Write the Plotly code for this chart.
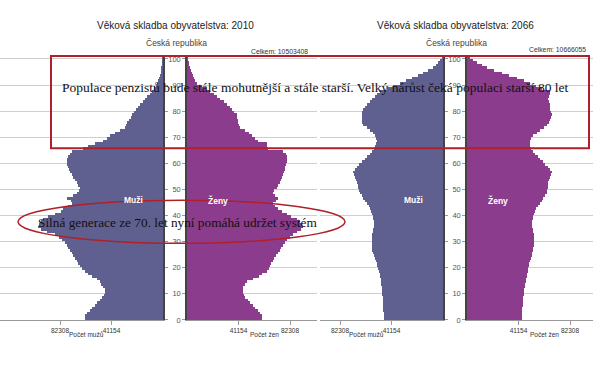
import plotly.graph_objects as go

W, H = 614, 372

ages = list(range(0, 101))

male_2010 = [62400, 62400, 60800, 58400, 56800, 54400, 52800, 50400, 48800, 47200,
             46400, 46400, 48000, 49600, 50400, 52800, 56800, 60000, 62400, 64800,
             66400, 68000, 68800, 70400, 72000, 72800, 74400, 76000, 76800, 78400,
             80800, 83200, 86400, 92800, 97600, 100000, 99200, 97600, 96000, 92000,
             86400, 81600, 80000, 76000, 72800, 73600, 76800, 72000, 68800, 67200,
             66400, 68000, 68800, 70400, 72000, 72800, 74400, 75200, 76000, 76800,
             76800, 76800, 76000, 74400, 72800, 64000, 60000, 54400, 48000, 44800,
             42400, 38400, 34400, 30400, 29600, 28800, 27200, 25600, 24800, 23200,
             21600, 20000, 18400, 16000, 14400, 12800, 10400, 8800, 7200, 5600,
             4800, 4000, 3200, 2400, 2000, 1600, 1200, 800, 600, 400, 200]

female_2010 = [60000, 60000, 58400, 56800, 54400, 52800, 50400, 48800, 46400, 45600,
               44800, 44800, 44800, 46400, 48000, 52800, 57600, 60000, 64000, 65600,
               66400, 67200, 68800, 69600, 71200, 72800, 74400, 75200, 76800, 78400,
               80000, 82400, 84800, 88000, 91200, 92800, 92000, 90400, 88000, 83200,
               80000, 76000, 72800, 70400, 68800, 71200, 72800, 70400, 68800, 69600,
               72000, 72800, 74400, 75200, 76000, 76800, 77600, 78400, 78400, 79200,
               80000, 80000, 80000, 79200, 76800, 64800, 64000, 64000, 56800, 54400,
               52000, 49600, 46400, 42400, 41600, 40800, 40800, 40000, 40000, 37600,
               36000, 34400, 32000, 29600, 26400, 24000, 21600, 18400, 15200, 12000,
               8000, 6400, 5600, 4800, 4000, 3200, 2400, 1600, 1200, 800, 400]

male_2066 = [47200, 47200, 47200, 48000, 48000, 48000, 48000, 48000, 48000, 48800,
             48800, 48800, 48800, 49600, 49600, 49600, 50400, 50400, 51200, 52000,
             52800, 52800, 53600, 54400, 55200, 56000, 56800, 56800, 56800, 56800,
             56800, 56800, 56800, 56000, 56000, 55200, 55200, 55200, 56000, 56000,
             56800, 57600, 58400, 59200, 60800, 62400, 64000, 64800, 66400, 67200,
             68000, 68000, 68800, 69600, 70400, 71200, 72000, 70400, 68800, 67200,
             64800, 62400, 60800, 58400, 56800, 55200, 54400, 53600, 52800, 53600,
             54400, 56000, 58400, 60800, 64000, 64800, 64800, 64800, 64800, 64800,
             64000, 62400, 60800, 58400, 56800, 54400, 52800, 50400, 44800, 40000,
             34400, 29600, 24800, 20000, 16000, 12000, 8000, 5600, 4000, 2400, 800]

female_2066 = [44000, 44000, 44000, 44000, 44000, 44800, 44800, 44800, 44800, 45600,
               45600, 45600, 46400, 46400, 47200, 47200, 48000, 48000, 48800, 48800,
               49600, 49600, 50400, 51200, 52000, 52000, 52800, 52800, 53600, 53600,
               53600, 53600, 53600, 52800, 52800, 52000, 52000, 52000, 52800, 52800,
               53600, 54400, 55200, 56800, 58400, 60000, 60800, 62400, 64000, 64000,
               64800, 64800, 64800, 65600, 66400, 67200, 68000, 66400, 64800, 62400,
               60800, 58400, 56800, 54400, 52800, 51200, 50400, 50400, 50400, 51200,
               52800, 56000, 58400, 61600, 64000, 65600, 66400, 67200, 68000, 67200,
               66400, 66400, 66400, 65600, 64800, 65600, 66400, 66400, 60000, 55200,
               50400, 45600, 40000, 33600, 28000, 21600, 16000, 12000, 8000, 4800, 2400]

for arr in (male_2010, female_2010, male_2066, female_2066):
    assert len(arr) == len(ages), len(arr)

count_ticks = [41154, 82308]
count_tick_text = ["41154", "82308"]
age_ticks = list(range(0, 101, 10))

titles = ["Věková skladba obyvatelstva: 2010", "Věková skladba obyvatelstva: 2066"]
subtitle = "Česká republika"
totals = ["Celkem: 10503408", "Celkem: 10666055"]
male_label, female_label = "Muži", "Ženy"
male_axis_title, female_axis_title = "Počet mužů", "Počet žen"
note_top = "Populace penzistů bude stále mohutnější a stále starší. Velký nárůst čeká populaci starší 80 let"
note_mid = "Silná generace ze 70. let nyní pomáhá udržet systém"

MALE_C = "#606090"
FEMALE_C = "#8C3C8C"
SANS = "Liberation Sans, Arial, sans-serif"
SERIF = "Liberation Serif, Times New Roman, serif"

def px(x):
    return x / W

def py(y):
    return 1 - y / H

PX_PER = 799.1  # people per pixel

fig = go.Figure()
ymid = [a + 0.5 for a in ages]
series = [(male_2010, "x", "y", MALE_C), (female_2010, "x2", "y2", FEMALE_C),
          (male_2066, "x3", "y3", MALE_C), (female_2066, "x4", "y4", FEMALE_C)]
for vals, xa, ya, col in series:
    fig.add_trace(go.Bar(x=vals, y=ymid, orientation="h", width=1,
                         marker=dict(color=col, line=dict(width=0)),
                         xaxis=xa, yaxis=ya, showlegend=False, hoverinfo="x+y"))

ydom = [py(324), py(55.34)]
axis_common = dict(showline=True, linecolor="#999", linewidth=1, ticks="outside",
                   ticklen=4, tickcolor="#999", tickvals=count_ticks, ticktext=count_tick_text,
                   tickfont=dict(family=SANS, size=6.5, color="#333"), showgrid=False,
                   zeroline=False, fixedrange=True)
yax_common = dict(domain=ydom, range=[0, 101], tickvals=age_ticks, showgrid=True,
                  gridcolor="#cfcfcf", gridwidth=1, zeroline=False, showline=True,
                  linecolor="#444", linewidth=1.5, ticks="outside", ticklen=3,
                  tickcolor="#999", tickfont=dict(family=SANS, size=7.5, color="#555"))

fig.update_layout(
    width=W, height=H, margin=dict(l=0, r=0, t=0, b=0),
    paper_bgcolor="white", plot_bgcolor="rgba(0,0,0,0)",
    barmode="overlay", bargap=0,
    xaxis=dict(domain=[px(0), px(163)], range=[163 * PX_PER, 0], anchor="y", **axis_common),
    xaxis2=dict(domain=[px(187), px(317)], range=[0, 130 * PX_PER], anchor="y2", **axis_common),
    xaxis3=dict(domain=[px(320), px(443)], range=[123 * PX_PER, 0], anchor="y3", **axis_common),
    xaxis4=dict(domain=[px(467), px(593)], range=[0, 126 * PX_PER], anchor="y4", **axis_common),
    yaxis=dict(anchor="x", side="right", showticklabels=False, **yax_common),
    yaxis2=dict(anchor="x2", side="left", showticklabels=True, **yax_common),
    yaxis3=dict(anchor="x3", side="right", showticklabels=False, **yax_common),
    yaxis4=dict(anchor="x4", side="left", showticklabels=True, **yax_common),
)

def note(text, x, y, size, family=SANS, color="#333", xanchor="center", xref="paper", yref="paper"):
    return dict(text=text, x=x, y=y, xref=xref, yref=yref, xanchor=xanchor, yanchor="middle",
                showarrow=False, font=dict(family=family, size=size, color=color))

ann = []
for i, (cx, tot_x, tot_y) in enumerate([(175, 310, 50), (455, 588, 48)]):
    ann.append(note(titles[i], px(cx), py(24), 10, color="#222"))
    ann.append(note(subtitle, px(cx + 1), py(42), 8.5, color="#444"))
    ann.append(note(totals[i], px(tot_x), py(tot_y), 6.8, xanchor="right"))

for mx, fx, ya, yb in [("x", "x2", "y", "y2"), ("x3", "x4", "y3", "y4")]:
    ann.append(note("<b>%s</b>" % male_label, 23200, 45.8, 8.5, color="white", xref=mx, yref=ya))
    ann.append(note("<b>%s</b>" % female_label, 24800, 45.8, 8.5, color="white", xref=fx, yref=yb))
    ann.append(note(male_axis_title, 61500, py(338.5), 6.5, xref=mx))
    ann.append(note(female_axis_title, 62300, py(338.5), 6.5, xref=fx))

ann.append(note(note_top, px(315), py(87), 13.5, family=SERIF, color="#111"))
ann.append(note(note_mid, px(177), py(225), 13.3, family=SERIF, color="#111"))
fig.update_layout(annotations=ann)

RED = "#B0202A"
fig.add_shape(type="rect", xref="paper", yref="paper", x0=px(51), x1=px(589),
              y0=py(149), y1=py(55), line=dict(color=RED, width=2))
fig.add_shape(type="circle", xref="paper", yref="paper", x0=px(18), x1=px(345),
              y0=py(246), y1=py(202), line=dict(color=RED, width=1.5))

fig.write_html("out.html", config={"displayModeBar": False},
               post_script="document.body.style.margin='0px';")
